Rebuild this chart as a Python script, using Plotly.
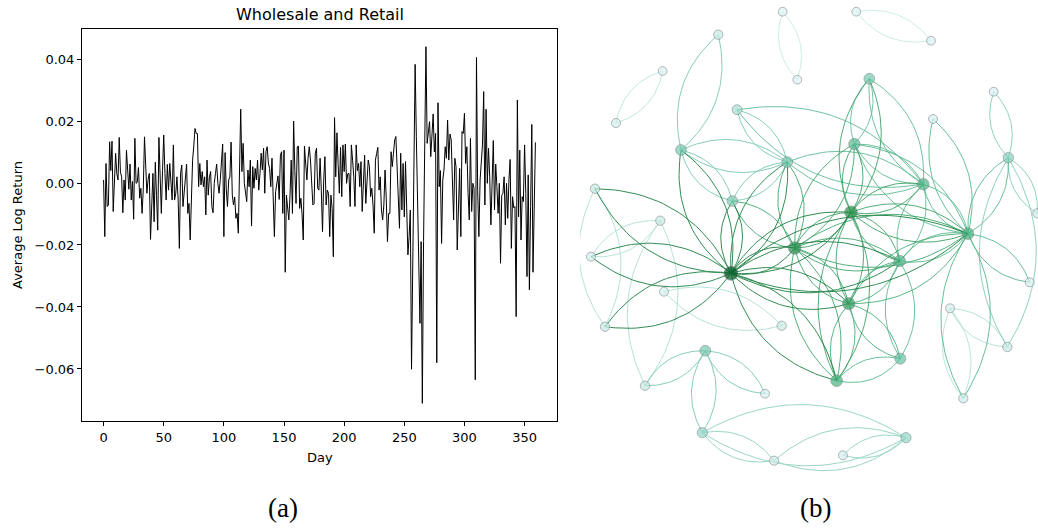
import numpy as np
import plotly.graph_objects as go
from plotly.colors import sample_colorscale

# ---------------- (a) average daily log return, Wholesale and Retail ----------------
returns_days_000_179 = [
    0.0010, -0.0173, 0.0063, -0.0076, -0.0071, 0.0133, 0.0040, 0.0135, -0.0092, -0.0001, 0.0096, 0.0030,
    0.0010, 0.0147, 0.0035, 0.0020, -0.0096, 0.0010, -0.0055, 0.0106, 0.0053, -0.0020, 0.0061, -0.0055, 0.0005,
    -0.0117, 0.0144, -0.0001, 0.0002, 0.0050, -0.0049, -0.0017, -0.0098, -0.0020, 0.0149, 0.0020, -0.0033, 0.0012,
    0.0031, -0.0182, -0.0033, 0.0031, -0.0125, 0.0067, -0.0040, -0.0152, 0.0147, -0.0001, -0.0098, 0.0040,
    0.0155, 0.0031, -0.0055, 0.0060, -0.0023, 0.0063, 0.0010, -0.0055, 0.0123, -0.0055, -0.0033, 0.0020, -0.0055,
    -0.0211, 0.0031, 0.0058, -0.0076, -0.0030, 0.0015, 0.0061, -0.0098, -0.0066, -0.0184, -0.0006, 0.0074, 0.0120,
    0.0176, 0.0160, 0.0160, -0.0012, 0.0063, -0.0006, 0.0037, -0.0012, 0.0020, -0.0103,
    0.0074, -0.0039, 0.0020, 0.0037, -0.0076, -0.0096, -0.0001, 0.0030, 0.0061, -0.0001, -0.0033,
    0.0010, 0.0069, 0.0126, -0.0173, 0.0098, -0.0020, -0.0076, 0.0010, 0.0020, 0.0132, -0.0039,
    -0.0071, -0.0045, -0.0114, -0.0098, -0.0162, 0.0096, 0.0238, 0.0037, 0.0128, -0.0001, -0.0044,
    -0.0060, 0.0042, -0.0012, 0.0074, -0.0139, 0.0053, -0.0017, 0.0047, 0.0010, 0.0074,
    -0.0023, 0.0030, 0.0096, 0.0042, 0.0112, -0.0033, 0.0101, 0.0117, 0.0065, 0.0047, -0.0012, 0.0080,
    -0.0076, -0.0173, -0.0028, 0.0005, 0.0023, -0.0053, 0.0090, 0.0101, -0.0098, 0.0106, -0.0288,
    -0.0039, -0.0085, -0.0119, -0.0039, 0.0074, -0.0098, 0.0200, 0.0040, -0.0066, 0.0117, 0.0119, -0.0082,
    -0.0049, -0.0100, -0.0184, 0.0119, 0.0047, 0.0010, 0.0080, 0.0117, 0.0074, 0.0015, -0.0071, -0.0066,
    0.0096, 0.0112, -0.0017, -0.0023,
]

returns_days_180_255 = [
    0.0080, -0.0023, -0.0157, 0.0010, 0.0085, -0.0071, -0.0023, -0.0033, -0.0173, -0.0039, -0.0082, -0.0238,
    0.0211, 0.0020, 0.0162, 0.0060, -0.0033, 0.0115, -0.0044, 0.0123, 0.0037, 0.0126, -0.0001, 0.0030,
    0.0031, -0.0076, 0.0123, 0.0074, 0.0020, -0.0076, 0.0123, 0.0040, 0.0063, -0.0012, 0.0069, -0.0092,
    -0.0001, 0.0090, -0.0066, -0.0010, 0.0074, 0.0053, -0.0044, -0.0017, -0.0071, -0.0162, 0.0074, 0.0095,
    0.0115, -0.0023, 0.0020, -0.0087, -0.0119, -0.0071, 0.0042, -0.0050, -0.0189, -0.0098, -0.0098, 0.0101,
    0.0053, 0.0096, 0.0139, 0.0150, 0.0031, -0.0092, -0.0146, 0.0096, -0.0087, 0.0063, -0.0109, 0.0069,
    -0.0130, -0.0232, -0.0173, -0.0087,
]

returns_days_256_277 = [
    -0.0601, -0.0300, 0.0050, 0.0383, 0.0150, -0.0050, -0.0270, -0.0453, -0.0189, -0.0711, -0.0189,
    0.0074, 0.0440, 0.0128, 0.0160, 0.0198, 0.0085, 0.0170, 0.0223, 0.0100, 0.0160, -0.0580,
]

returns_days_278_359 = [
    0.0259, -0.0012, 0.0040, -0.0195, 0.0010, 0.0042, 0.0117, 0.0080, 0.0203, 0.0074, 0.0158, 0.0139,
    0.0030, -0.0119, 0.0080, 0.0053, -0.0216, -0.0050, 0.0047, -0.0173, 0.0166, 0.0160, 0.0225, 0.0063,
    0.0117, -0.0030, -0.0119, 0.0144, -0.0092, -0.0001, -0.0017, -0.0635, 0.0405, -0.0023, -0.0173, 0.0010,
    0.0090, 0.0123, 0.0295, -0.0071, 0.0238, -0.0001, 0.0112, 0.0020, -0.0135, 0.0020, 0.0137, -0.0087,
    0.0061, -0.0012, -0.0098, -0.0001, -0.0259, -0.0040, -0.0033, 0.0020, -0.0135, -0.0001, -0.0114, 0.0010,
    0.0076, -0.0211, -0.0044, -0.0080, -0.0076, -0.0431, 0.0268, -0.0109, 0.0106, -0.0184, -0.0044, -0.0060,
    0.0123, -0.0033, -0.0302, 0.0026, -0.0345, -0.0076, 0.0189, -0.0288, -0.0033, 0.0131,
]

log_return = returns_days_000_179 + returns_days_180_255 + returns_days_256_277 + returns_days_278_359
days = list(range(len(log_return)))

x_ticks = [0, 50, 100, 150, 200, 250, 300, 350]
y_ticks = [-0.06, -0.04, -0.02, 0.00, 0.02, 0.04]
y_tick_text = ["\u22120.06", "\u22120.04", "\u22120.02", "0.00", "0.02", "0.04"]

# ---------------- (b) co-movement network ----------------
# node layout (x, y in layout units, y grows downward) and node strength in [0, 1]
node_x = [782.7, 856.3, 931.0, 797.3, 718.3, 662.7, 616.0, 869.3, 737.0, 933.0,
          993.7, 681.0, 854.3, 787.3, 923.3, 1008.3, 595.0, 732.3, 851.0, 660.3,
          968.0, 591.0, 794.7, 899.7, 731.0, 664.0, 1037.3, 1029.7, 848.7, 950.0,
          781.7, 605.0, 1007.3, 900.3, 705.3, 836.7, 645.0, 765.0, 963.3, 702.3,
          906.0, 774.0, 843.0]
node_y = [11.7, 11.7, 40.7, 79.7, 34.7, 71.0, 123.0, 78.7, 109.7, 119.0,
          91.7, 150.0, 144.0, 162.0, 184.3, 157.7, 188.7, 201.0, 212.3, 220.7,
          233.7, 256.7, 248.0, 261.0, 273.3, 291.7, 213.3, 282.3, 303.7, 308.3,
          325.7, 326.7, 347.0, 358.7, 350.7, 380.7, 385.7, 393.7, 398.3, 432.7,
          437.7, 460.7, 455.3]
node_strength = [0.04, 0.04, 0.04, 0.04, 0.15, 0.04, 0.10, 0.40, 0.25, 0.08,
                 0.06, 0.40, 0.50, 0.40, 0.55, 0.35, 0.16, 0.38, 0.76, 0.15,
                 0.58, 0.10, 0.74, 0.55, 1.00, 0.08, 0.12, 0.10, 0.68, 0.08,
                 0.15, 0.16, 0.16, 0.45, 0.40, 0.58, 0.16, 0.08, 0.14, 0.30,
                 0.30, 0.12, 0.08]

# undirected links, node ids counted from 1; each link is drawn in both directions
links = [
    (1, 4), (2, 3), (6, 7), (5, 12), (11, 16), (16, 27), (16, 33), (10, 21), (21, 28),
    (21, 39), (30, 33), (30, 39), (17, 25), (17, 32), (22, 25), (20, 22), (20, 37),
    (25, 32), (26, 31), (35, 37), (35, 38), (35, 40), (40, 41), (40, 42), (41, 42),
    (41, 43), (16, 21),
    (12, 14), (12, 18), (12, 25), (9, 14), (9, 15), (14, 25), (14, 18), (14, 23),
    (14, 15), (18, 25), (18, 23), (13, 8), (13, 19), (13, 15), (13, 21), (13, 23),
    (8, 19), (8, 15), (19, 23), (19, 25), (19, 15), (19, 21), (19, 24), (19, 29),
    (19, 36), (23, 25), (23, 29), (23, 36), (23, 24), (23, 21), (25, 29), (25, 36),
    (25, 24), (29, 24), (29, 36), (29, 34), (29, 21), (24, 21), (24, 15), (24, 34),
    (36, 34), (15, 21), (25, 21),
]

ARC_RAD = 0.3
BUGN = "BuGn"


def arc_points(x0, y0, x1, y1, rad=ARC_RAD, n=30):
    """Quadratic Bezier arc from (x0, y0) to (x1, y1), bent to one side."""
    mx, my = (x0 + x1) / 2.0, (y0 + y1) / 2.0
    dx, dy = x1 - x0, y1 - y0
    cx, cy = mx + rad * dy, my - rad * dx
    t = np.linspace(0.0, 1.0, n)
    bx = (1 - t) ** 2 * x0 + 2 * (1 - t) * t * cx + t ** 2 * x1
    by = (1 - t) ** 2 * y0 + 2 * (1 - t) * t * cy + t ** 2 * y1
    return bx, by


W, H = 1038, 529
fig = go.Figure()

# left panel: line chart
fig.add_trace(go.Scatter(
    x=days, y=log_return, mode="lines",
    line=dict(color="black", width=1.0),
    xaxis="x", yaxis="y", showlegend=False, hoverinfo="skip",
))

# right panel: links grouped by colour, lighter first
groups = {}
for a, b in links:
    i, j = a - 1, b - 1
    s = max(node_strength[i], node_strength[j])
    key = round(s, 2)
    xs, ys = groups.setdefault(key, ([], []))
    for (p, q) in ((i, j), (j, i)):
        bx, by = arc_points(node_x[p], node_y[p], node_x[q], node_y[q])
        xs.extend(bx.tolist() + [None])
        ys.extend(by.tolist() + [None])

for key in sorted(groups):
    xs, ys = groups[key]
    col = sample_colorscale(BUGN, [0.24 + 0.58 * key])[0]
    fig.add_trace(go.Scatter(
        x=xs, y=ys, mode="lines",
        line=dict(color=col, width=1.0),
        opacity=0.85,
        xaxis="x2", yaxis="y2", showlegend=False, hoverinfo="skip",
    ))

node_colors = sample_colorscale(BUGN, [0.14 + 0.80 * s for s in node_strength])
node_sizes = [8.5 + 5.5 * s for s in node_strength]
fig.add_trace(go.Scatter(
    x=node_x, y=node_y, mode="markers",
    marker=dict(size=node_sizes, color=node_colors,
                line=dict(color="rgba(110,120,125,0.75)", width=1)),
    xaxis="x2", yaxis="y2", showlegend=False, hoverinfo="skip",
))


def px_x(v):
    return v / W


def px_y(v):
    return 1 - v / H


axis_font = dict(family="DejaVu Sans", size=13, color="black")

fig.update_layout(
    width=W, height=H,
    margin=dict(l=0, r=0, t=0, b=0),
    paper_bgcolor="white", plot_bgcolor="white",
    xaxis=dict(
        domain=[px_x(82), px_x(557)], range=[-17.95, 376.95],
        tickvals=x_ticks, ticks="outside", ticklen=4, tickwidth=1, tickcolor="black",
        showline=True, linecolor="black", linewidth=1, mirror=True,
        showgrid=False, zeroline=False, tickfont=axis_font, anchor="y",
    ),
    yaxis=dict(
        domain=[px_y(421), px_y(29)], range=[-0.0768, 0.0497],
        tickvals=y_ticks, ticktext=y_tick_text,
        ticks="outside", ticklen=4, tickwidth=1, tickcolor="black",
        showline=True, linecolor="black", linewidth=1, mirror=True,
        showgrid=False, zeroline=False, tickfont=axis_font, anchor="x",
    ),
    xaxis2=dict(
        domain=[px_x(580), 1.0], range=[580, 1038],
        visible=False, anchor="y2",
    ),
    yaxis2=dict(
        domain=[px_y(480), 1.0], range=[480, 0],
        visible=False, anchor="x2",
    ),
    annotations=[
        dict(text="Wholesale and Retail", x=px_x(319.5), y=px_y(14), xref="paper", yref="paper",
             showarrow=False, font=dict(family="DejaVu Sans", size=16, color="black"),
             xanchor="center", yanchor="middle"),
        dict(text="Day", x=px_x(319.5), y=px_y(457), xref="paper", yref="paper",
             showarrow=False, font=axis_font, xanchor="center", yanchor="middle"),
        dict(text="Average Log Return", x=px_x(17), y=px_y(225), xref="paper", yref="paper",
             showarrow=False, font=axis_font, textangle=-90, xanchor="center", yanchor="middle"),
        dict(text="(a)", x=px_x(283), y=px_y(508), xref="paper", yref="paper",
             showarrow=False, font=dict(family="Liberation Serif", size=27, color="black"),
             xanchor="center", yanchor="middle"),
        dict(text="(b)", x=px_x(815), y=px_y(508), xref="paper", yref="paper",
             showarrow=False, font=dict(family="Liberation Serif", size=27, color="black"),
             xanchor="center", yanchor="middle"),
    ],
)

fig.write_html("out.html")
